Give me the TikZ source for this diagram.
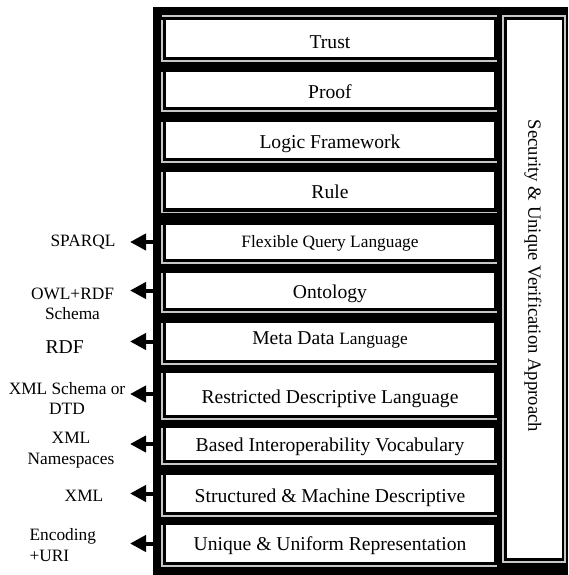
\documentclass[tikz,border=0pt]{standalone}
\usepackage{fontspec}
\setmainfont{Liberation Serif}
\usetikzlibrary{arrows.meta}
\begin{document}
\begin{tikzpicture}[x=0.75pt,y=-0.75pt,
  lbox/.style={fill=white, draw=none, minimum width=246pt, inner sep=0pt, outer sep=0pt},
  thinl/.style={draw=black!22, line width=0.9pt},
  bigf/.style={font=\fontsize{14.7pt}{17pt}\selectfont},
  smallf/.style={font=\fontsize{13pt}{16pt}\selectfont},
  ltext/.style={inner sep=0pt, anchor=base},
  lab/.style={inner sep=0pt, align=center, font=\fontsize{13pt}{15.5pt}\selectfont},
  arr/.style={line width=3pt, -{Triangle[length=12pt,width=12pt]}}]
\useasboundingbox (0,0) rectangle (568,575);
\fill[black] (153,7) rectangle (568,575);
\newcommand{\layer}[6]{%
  \node[lbox, minimum height={(#3-#2)*0.75pt}] (#1) at (330,{(#2+#3)/2}) {};
  \draw[thinl] ([xshift=-3pt]#1.north west) -- ([shift={(-3pt,-3pt)}]#1.south west) -- ([shift={(2pt,-3pt)}]#1.south east);
  \node[ltext,#6] (#1t) at (330,#4) {#5};
}
\layer{b1}{20}{57}{48.3}{Trust}{bigf}
\draw[thinl] ([shift={(-3pt,3pt)}]b1.north west) -- ([shift={(2pt,3pt)}]b1.north east);
\layer{b2}{72}{107}{98.3}{Proof}{bigf}
\layer{b3}{122}{158}{148.3}{Logic Framework}{bigf}
\layer{b4}{172}{208.3}{198}{Rule}{bigf}
\layer{b5}{225}{259}{247.3}{Flexible Query Language}{smallf}
\layer{b6}{273}{308}{298.3}{Ontology}{bigf}
\layer{b7}{323}{360}{344.3}{Meta Data {\fontsize{13pt}{16pt}\selectfont Language}}{bigf}
\layer{b8}{373}{415}{403.3}{Restricted Descriptive Language}{bigf}
\layer{b9}{428}{460}{451}{Based Interoperability Vocabulary}{bigf}
\layer{b10}{475}{512}{502.3}{Structured \& Machine Descriptive}{bigf}
\layer{b11}{525}{562}{550}{Unique \& Uniform Representation}{bigf}
% right column
\node[fill=white, inner sep=0pt, outer sep=0pt, minimum width=41.25pt, minimum height=403.5pt] (sec) at (534.5,289) {};
\draw[thinl] ([shift={(-3pt,3pt)}]sec.north west) rectangle ([shift={(2.25pt,-3pt)}]sec.south east);
\node[inner sep=0pt, rotate=-90, font=\fontsize{14pt}{16pt}\selectfont] (sect) at (533,276) {Security \& Unique Verification Approach};
% left labels
\node[lab, anchor=base] (l5) at (83,246.7) {SPARQL};
\node[lab] (l6) at (72.5,304) {OWL+RDF\\Schema};
\node[lab, anchor=base, font=\fontsize{14.7pt}{17pt}\selectfont] (l7) at (64.7,353) {RDF};
\node[lab] (l8) at (67,398.5) {XML Schema or\\DTD};
\node[lab] (l9) at (71,450) {XML\\Namespaces};
\node[lab, anchor=base] (l10) at (84,501.7) {XML};
\node[lab, anchor=west, align=left] (l11) at (29.3,545) {Encoding\\+URI};
% arrows
\foreach \b in {b5,b6,b7,b8,b9,b10,b11}{
  \draw[arr] ([xshift=-9.75pt]\b.west) -- ([xshift=-27pt]\b.west);
}
\end{tikzpicture}
\end{document}
